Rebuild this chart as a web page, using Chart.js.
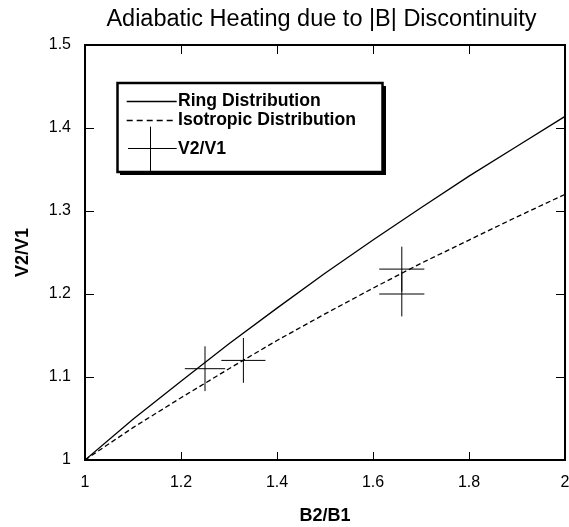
<!DOCTYPE html>
<html><head><meta charset="utf-8">
<script src="https://cdn.jsdelivr.net/npm/chart.js@4.4.1/dist/chart.umd.min.js"></script>
<style>html,body{margin:0;padding:0;background:#fff}</style>
</head><body>
<canvas id="c" width="569" height="527" style="display:block;width:569px;height:527px"></canvas>
<script>
const chartTitle = 'Adiabatic Heating due to |B| Discontinuity';
const xAxisLabel = 'B2/B1';
const yAxisLabel = 'V2/V1';
const seriesNames = ['Ring Distribution', 'Isotropic Distribution', 'V2/V1'];

const xTicks = [1, 1.2, 1.4, 1.6, 1.8, 2];
const xTickLabels = ['1', '1.2', '1.4', '1.6', '1.8', '2'];
const yTicks = [1, 1.1, 1.2, 1.3, 1.4, 1.5];
const yTickLabels = ['1', '1.1', '1.2', '1.3', '1.4', '1.5'];

const curveX = [1, 1.1, 1.2, 1.3, 1.4, 1.5, 1.6, 1.7, 1.8, 1.9, 2];
const ringValues = [1, 1.049, 1.095, 1.140, 1.183, 1.225, 1.265, 1.304, 1.342, 1.378, 1.414];
const isoValues = [1, 1.039, 1.075, 1.110, 1.144, 1.176, 1.207, 1.237, 1.265, 1.293, 1.320];

const expX = [1.25, 1.33, 1.66, 1.66];
const expY = [1.11, 1.12, 1.23, 1.20];
const errX = [0.042, 0.046, 0.047, 0.047];
const errY = [0.027, 0.027, 0.027, 0.027];

const F = "'Liberation Sans', Arial, Helvetica, sans-serif";

const datasets = [
  { label: seriesNames[0], data: curveX.map((v, i) => ({ x: v, y: ringValues[i] })),
    borderColor: '#000', borderWidth: 1.3, pointRadius: 0, tension: 0, fill: false },
  { label: seriesNames[1], data: curveX.map((v, i) => ({ x: v, y: isoValues[i] })),
    borderColor: '#000', borderWidth: 1.3, borderDash: [5, 3], pointRadius: 0, tension: 0, fill: false }
];
expX.forEach((v, i) => {
  datasets.push({ label: seriesNames[2], data: [{ x: v - errX[i], y: expY[i] }, { x: v + errX[i], y: expY[i] }],
    borderColor: '#000', borderWidth: 1, pointRadius: 0, fill: false });
  datasets.push({ label: seriesNames[2], data: [{ x: v, y: expY[i] - errY[i] }, { x: v, y: expY[i] + errY[i] }],
    borderColor: '#000', borderWidth: 1, pointRadius: 0, fill: false });
});

const decor = {
  id: 'decor',
  afterDraw(chart) {
    const { ctx, chartArea: a, scales: { x, y } } = chart;
    ctx.save();
    // title
    ctx.fillStyle = '#000';
    ctx.font = `23.5px ${F}`;
    ctx.textAlign = 'center';
    ctx.textBaseline = 'alphabetic';
    ctx.fillText(chartTitle, 321.5, 26);
    // frame
    ctx.strokeStyle = '#000';
    ctx.lineWidth = 2;
    ctx.strokeRect(a.left, a.top, a.right - a.left, a.bottom - a.top);
    // inner ticks
    ctx.lineWidth = 1;
    ctx.beginPath();
    xTicks.forEach(v => {
      const px = Math.round(x.getPixelForValue(v)) + 0.5;
      ctx.moveTo(px, a.bottom); ctx.lineTo(px, a.bottom - 8);
      ctx.moveTo(px, a.top); ctx.lineTo(px, a.top + 9);
    });
    yTicks.forEach(v => {
      const py = Math.round(y.getPixelForValue(v)) + 0.5;
      ctx.moveTo(a.left, py); ctx.lineTo(a.left + 9, py);
      ctx.moveTo(a.right, py); ctx.lineTo(a.right - 9, py);
    });
    ctx.stroke();
    // legend box
    ctx.fillStyle = '#000';
    ctx.fillRect(120, 86, 266, 89);
    ctx.fillStyle = '#fff';
    ctx.fillRect(117.5, 83, 265, 89);
    ctx.strokeStyle = '#000';
    ctx.lineWidth = 2.5;
    ctx.strokeRect(117.5, 83, 265, 89);
    // legend samples
    ctx.lineWidth = 1.3;
    ctx.beginPath(); ctx.moveTo(126.7, 101.5); ctx.lineTo(176.7, 101.5); ctx.stroke();
    ctx.setLineDash([6, 4]);
    ctx.beginPath(); ctx.moveTo(126.7, 120.5); ctx.lineTo(176.7, 120.5); ctx.stroke();
    ctx.setLineDash([]);
    ctx.lineWidth = 1;
    ctx.beginPath();
    ctx.moveTo(150.5, 126.7); ctx.lineTo(150.5, 171.5);
    ctx.moveTo(128, 148.5); ctx.lineTo(176.7, 148.5);
    ctx.stroke();
    // legend text
    ctx.fillStyle = '#000';
    ctx.font = `bold 17.6px ${F}`;
    ctx.textAlign = 'left';
    ctx.textBaseline = 'middle';
    ctx.fillText(seriesNames[0], 178, 101);
    ctx.fillText(seriesNames[1], 178, 120.3);
    ctx.fillText(seriesNames[2], 178, 149);
    ctx.restore();
  }
};

new Chart(document.getElementById('c'), {
  type: 'line',
  data: { datasets },
  plugins: [decor],
  options: {
    responsive: false,
    animation: false,
    devicePixelRatio: 1,
    layout: { padding: { top: 45, right: 4, left: 0, bottom: 0 } },
    plugins: { legend: { display: false }, title: { display: false }, tooltip: { enabled: false } },
    scales: {
      x: {
        type: 'linear', min: 1, max: 2,
        afterBuildTicks: s => { s.ticks = xTicks.map(v => ({ value: v })); },
        afterFit: s => { s.height = 67; s.paddingLeft = 0; s.paddingRight = 0; },
        grid: { display: false, drawTicks: false, tickLength: 0 },
        border: { display: false },
        ticks: { padding: 13, color: '#000', font: { family: F, size: 16 }, maxRotation: 0, autoSkip: false,
          callback: (v, i) => xTickLabels[i] },
        title: { display: true, text: xAxisLabel, color: '#000', font: { family: F, size: 18, weight: 'bold' }, padding: { top: 0, bottom: 0 } }
      },
      y: {
        type: 'linear', min: 1, max: 1.5,
        afterBuildTicks: s => { s.ticks = yTicks.map(v => ({ value: v })); },
        afterFit: s => { s.width = 85; s.paddingTop = 0; s.paddingBottom = 0; },
        grid: { display: false, drawTicks: false, tickLength: 0 },
        border: { display: false },
        ticks: { padding: 14, color: '#000', font: { family: F, size: 16 }, autoSkip: false,
          callback: (v, i) => yTickLabels[i] },
        title: { display: true, text: yAxisLabel, color: '#000', font: { family: F, size: 18, weight: 'bold' }, padding: { top: 12, bottom: 0 } }
      }
    }
  }
});
</script>
</body></html>
